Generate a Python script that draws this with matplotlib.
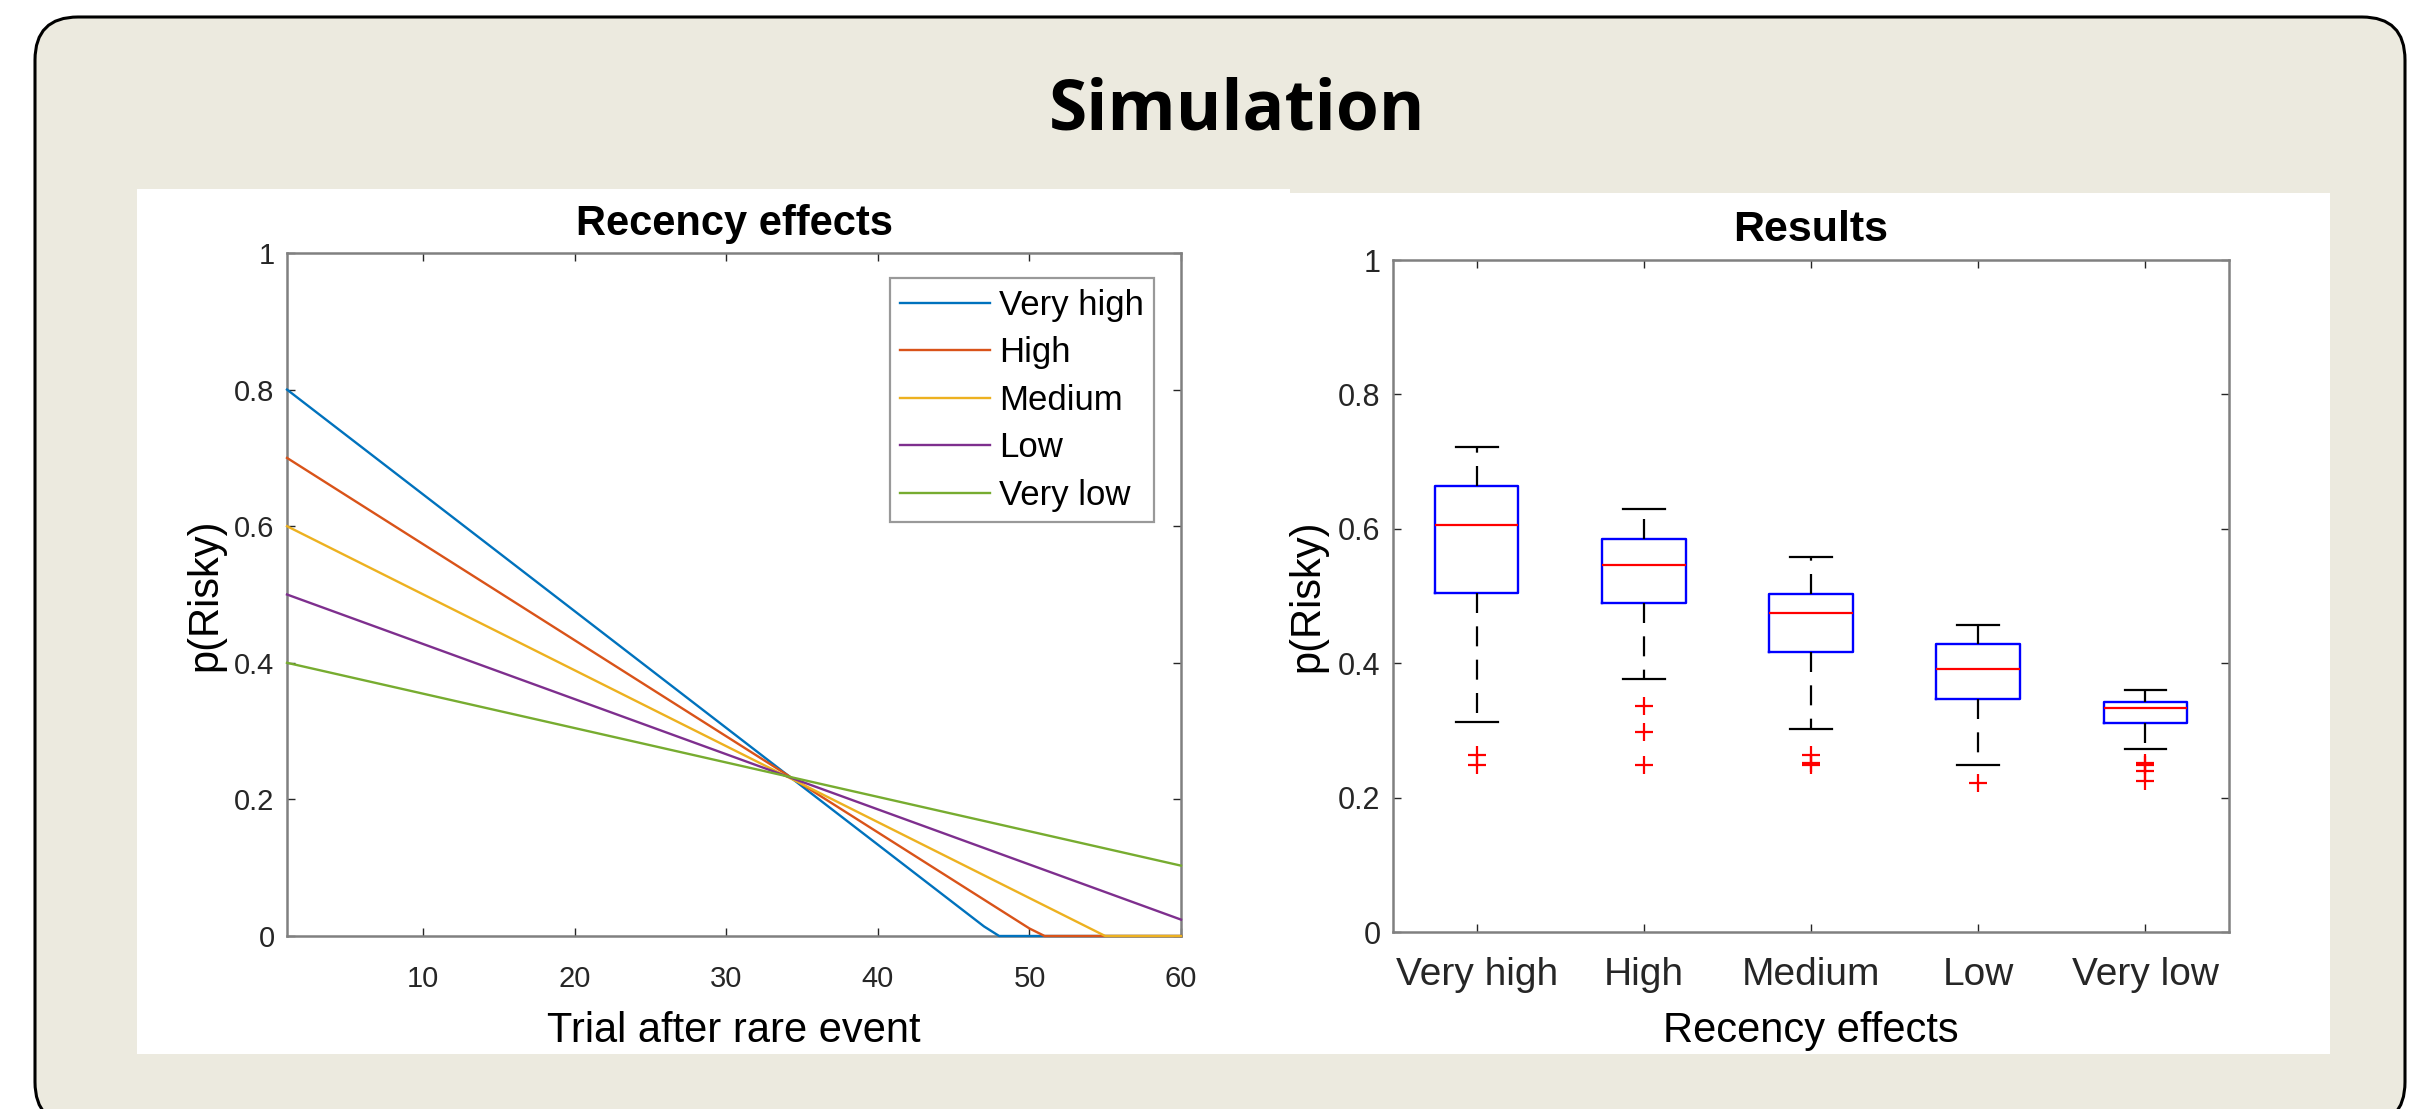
import matplotlib
matplotlib.use("Agg")
import matplotlib.pyplot as plt
from matplotlib.patches import FancyBboxPatch, Rectangle

# ---------------- data ----------------
line_labels = ["Very high", "High", "Medium", "Low", "Very low"]
line_colors = ["#0072BD", "#D95319", "#EDB120", "#7E2F8E", "#77AC30"]
# vertices (trial, p(Risky))
vh_x = [1, 47, 48, 60]
vh_y = [0.80, 0.014, 0.0, 0.0]
hi_x = [1, 50, 51, 60]
hi_y = [0.70, 0.011, 0.0, 0.0]
me_x = [1, 55, 60]
me_y = [0.60, 0.0, 0.0]
lo_x = [1, 60]
lo_y = [0.50, 0.024]
vl_x = [1, 60]
vl_y = [0.40, 0.103]

box_labels = ["Very high", "High", "Medium", "Low", "Very low"]
whisk_hi = [0.722, 0.629, 0.558, 0.457, 0.360]
q3 = [0.664, 0.585, 0.503, 0.428, 0.343]
median = [0.606, 0.546, 0.474, 0.392, 0.333]
q1 = [0.505, 0.490, 0.416, 0.346, 0.311]
whisk_lo = [0.313, 0.377, 0.302, 0.249, 0.272]
outliers = [[0.263, 0.249], [0.336, 0.297, 0.249], [0.263, 0.252, 0.249], [0.221], [0.252, 0.249, 0.240, 0.224]]

W, H = 2436, 1109

plt.rcParams["font.family"] = ["Liberation Sans", "DejaVu Sans"]

fig = plt.figure(figsize=(W / 100, H / 100), dpi=100)
fig.patch.set_facecolor("white")

def fx(px):
    return px / W

def fy(py):
    return 1 - py / H

# rounded beige panel
bg = FancyBboxPatch((fx(35 + 43), fy(1125 - 43)), fx(2405 - 35 - 86), (1125 - 17 - 86) / H,
                    boxstyle="round,pad=0,rounding_size=43", transform=fig.transFigure,
                    facecolor="#ECEADF", edgecolor="black", linewidth=2.2, zorder=-3,
                    mutation_aspect=W / H)
bg.set_boxstyle("round", pad=43 / W, rounding_size=43 / W)
fig.patches.append(bg)

# white panels
fig.patches.append(Rectangle((fx(137), fy(1054)), fx(1290 - 137), (1054 - 189) / H,
                             transform=fig.transFigure, facecolor="white", edgecolor="none", zorder=-2))
fig.patches.append(Rectangle((fx(1290), fy(1054)), fx(2330 - 1290), (1054 - 193) / H,
                             transform=fig.transFigure, facecolor="white", edgecolor="none", zorder=-2))

fig.text(fx(1237), fy(112), "Simulation", ha="center", va="center", fontsize=50,
         fontweight="bold", family=["Open Sans", "DejaVu Sans"])

spine_col = "#808080"

def style_axes(ax):
    for s in ax.spines.values():
        s.set_color(spine_col)
        s.set_linewidth(1.8)
    ax.tick_params(direction="in", length=6, width=1.0, color="#262626",
                   top=True, right=True, labelcolor="#262626")

# ---------- left axes ----------
axL = fig.add_axes([fx(287), fy(936), fx(1181 - 287), (936 - 253) / H])
series = [(vh_x, vh_y), (hi_x, hi_y), (me_x, me_y), (lo_x, lo_y), (vl_x, vl_y)]
for (xs, ys), lab, col in zip(series, line_labels, line_colors):
    axL.plot(xs, ys, color=col, linewidth=1.7, label=lab, solid_joinstyle="round",
             zorder=3, clip_on=False)
axL.set_xlim(1, 60)
axL.set_ylim(0, 1)
axL.set_xticks([10, 20, 30, 40, 50, 60])
axL.set_yticks([0, 0.2, 0.4, 0.6, 0.8, 1])
axL.set_yticklabels(["0", "0.2", "0.4", "0.6", "0.8", "1"])
style_axes(axL)
axL.tick_params(labelsize=21)
axL.tick_params(axis="x", pad=21)
axL.tick_params(axis="y", pad=9)
axL.set_xlabel("Trial after rare event", fontsize=30, labelpad=13)
axL.set_ylabel("p(Risky)", fontsize=30, labelpad=6)
axL.set_title("Recency effects", fontsize=30, fontweight="bold", pad=13)
leg = axL.legend(loc="upper right", bbox_to_anchor=(0.970, 0.963), borderaxespad=0,
                 fontsize=25, frameon=True, fancybox=False, handlelength=2.6,
                 handletextpad=0.25, labelspacing=0.42, borderpad=0.3)
leg.get_frame().set_edgecolor(spine_col)
leg.get_frame().set_linewidth(1.6)

# ---------- right axes ----------
axR = fig.add_axes([fx(1393), fy(932), fx(2229 - 1393), (932 - 260) / H])
stats = []
for i in range(len(box_labels)):
    stats.append(dict(label=box_labels[i], med=median[i], q1=q1[i], q3=q3[i],
                      whislo=whisk_lo[i], whishi=whisk_hi[i], fliers=outliers[i]))
axR.bxp(stats, positions=range(1, 6), widths=0.5, showfliers=True,
        boxprops=dict(color="blue", linewidth=1.7),
        medianprops=dict(color="red", linewidth=1.6),
        whiskerprops=dict(color="black", linewidth=1.6, linestyle=(0, (9, 6))),
        capprops=dict(color="black", linewidth=1.6),
        capwidths=0.25,
        flierprops=dict(marker="+", markeredgecolor="red", markersize=13, markeredgewidth=1.6,
                        linestyle="none"))
axR.set_xlim(0.5, 5.5)
axR.set_ylim(0, 1)
axR.set_yticks([0, 0.2, 0.4, 0.6, 0.8, 1])
axR.set_yticklabels(["0", "0.2", "0.4", "0.6", "0.8", "1"])
style_axes(axR)
axR.tick_params(axis="y", labelsize=22, pad=9)
axR.tick_params(axis="x", labelsize=28, pad=18)
axR.set_xlabel("Recency effects", fontsize=30, labelpad=13)
axR.set_ylabel("p(Risky)", fontsize=30, labelpad=8)
axR.set_title("Results", fontsize=31, fontweight="bold", pad=14)

fig.savefig("out.png", dpi=100, facecolor="white")
